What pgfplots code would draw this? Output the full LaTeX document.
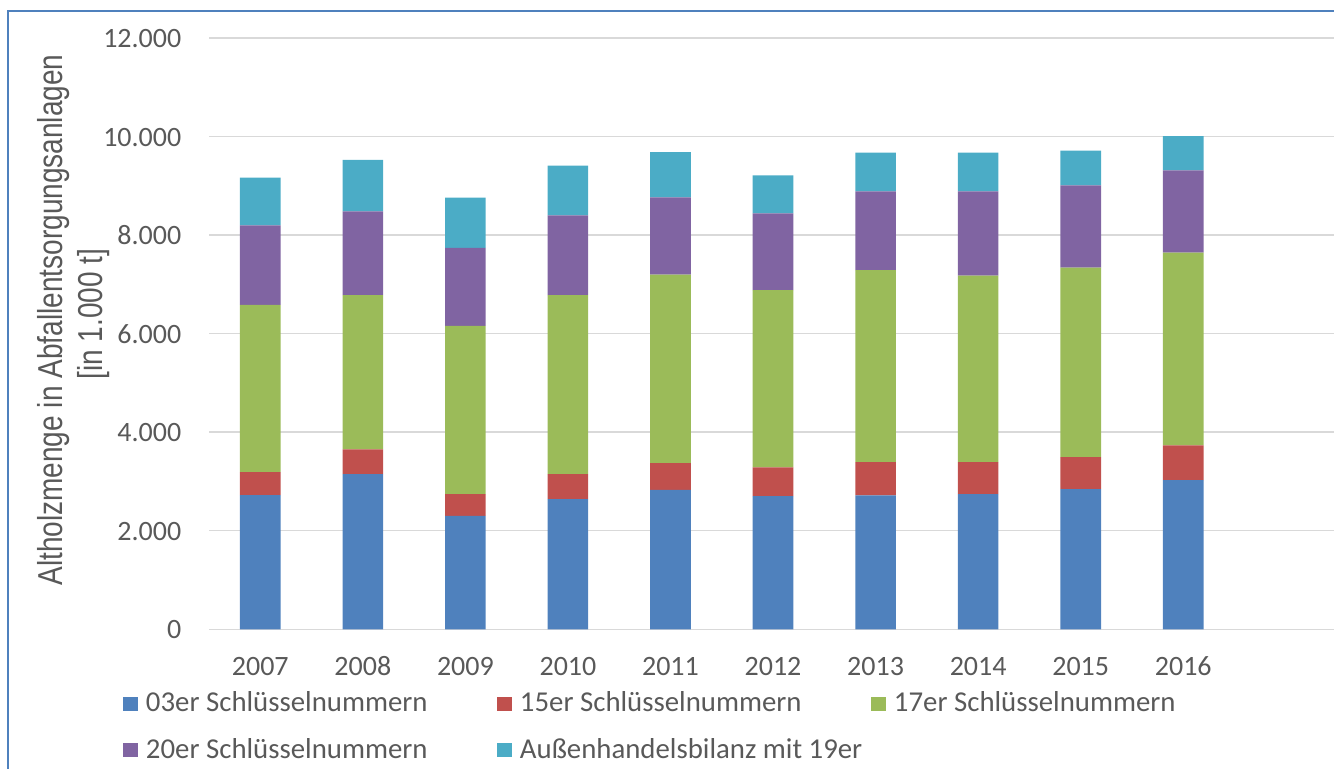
\documentclass[border=0pt]{standalone}
\usepackage{fontspec}
\setmainfont{Carlito}
\newfontfamily\labelfont[FakeStretch=0.81]{Liberation Sans}
\usepackage{pgfplots}
\usepackage{pgfplotstable}
\pgfplotsset{compat=1.18}
\definecolor{cblue}{RGB}{79,129,189}
\definecolor{cred}{RGB}{192,80,77}
\definecolor{cgreen}{RGB}{155,187,89}
\definecolor{cpurple}{RGB}{128,100,162}
\definecolor{ccyan}{RGB}{75,172,198}
\definecolor{gridgray}{RGB}{217,217,217}
\definecolor{textgray}{RGB}{89,89,89}
\definecolor{frameblue}{RGB}{79,129,189}

\pgfplotstableread{
x blue red green purple cyan
0 2724 466 3393 1616 967
1 3150 500 3130 1703 1041
2 2304 440 3413 1582 1022
3 2643 507 3630 1622 1008
4 2831 542 3826 1568 919
5 2703 582 3596 1562 770
6 2717 676 3894 1602 784
7 2744 649 3786 1710 784
8 2845 649 3847 1670 703
9 3028 703 3914 1670 695
}\datatable

\pgfplotsset{
  sqlegend/.style={legend image code/.code={\fill[##1,draw=none] (0pt,-2.75pt) rectangle (7.5pt,4.25pt);}}
}

\begin{document}
\begin{tikzpicture}
\useasboundingbox (0,0) rectangle (667pt,384.5pt);
\draw[color=frameblue, line width=1pt] (4pt,-2pt) -- (4pt,378.85pt) -- (670pt,378.85pt);
\begin{axis}[
  at={(104.5pt,69.85pt)}, anchor=south west,
  scale only axis, width=562.5pt, height=295.65pt,
  ybar stacked, bar width=20.3pt,
  xmin=-0.5, xmax=10.47, ymin=0, ymax=12000,
  xtick={0,...,9},
  xticklabels={2007,2008,2009,2010,2011,2012,2013,2014,2015,2016},
  ytick={0,2000,4000,6000,8000,10000,12000},
  scaled y ticks=false,
  axis line style={draw=none},
  major tick length=0pt,
  tick style={draw=none},
  ymajorgrids,
  grid style={color=gridgray, line width=0.75pt},
  /pgf/number format/1000 sep={.},
  /pgf/number format/assume math mode=true,
  y tick label style={anchor=base east, inner sep=0pt, xshift=-13.65pt, yshift=-4.75pt,
    font=\fontsize{14}{16}\selectfont, text=textgray},
  x tick label style={anchor=base, inner sep=0pt, yshift=-23.35pt,
    font=\fontsize{14}{16}\selectfont, text=textgray},
  legend columns=3,
  legend cell align=left,
  legend style={at={(-0.07644,-0.10553)}, anchor=north west, draw=none, fill=none,
    inner sep=0pt, outer sep=0pt, row sep=9.8pt, column sep=0pt,
    font=\fontsize{14.4}{16}\selectfont, text=textgray,
    nodes={inner sep=0pt, text height=10pt, text depth=3.5pt},
    /tikz/every odd column/.append style={column sep=4pt}},
]
\addplot[fill=cblue, draw=none, sqlegend] table[x=x, y=blue] {\datatable};
\addlegendentry{\makebox[175.5pt][l]{03er Schlüsselnummern}}
\addplot[fill=cred, draw=none, sqlegend] table[x=x, y=red] {\datatable};
\addlegendentry{\makebox[175.5pt][l]{15er Schlüsselnummern}}
\addplot[fill=cgreen, draw=none, sqlegend] table[x=x, y=green] {\datatable};
\addlegendentry{\makebox[175.5pt][l]{17er Schlüsselnummern}}
\addplot[fill=cpurple, draw=none, sqlegend] table[x=x, y=purple] {\datatable};
\addlegendentry{\makebox[175.5pt][l]{20er Schlüsselnummern}}
\addplot[fill=ccyan, draw=none, sqlegend] table[x=x, y=cyan] {\datatable};
\addlegendentry{\makebox[175.5pt][l]{Außenhandelsbilanz mit 19er}}
\end{axis}
\node[rotate=90, anchor=base, inner sep=0pt, text=textgray] at (31.25pt,224.5pt)
  {\labelfont\fontsize{17.3}{20}\selectfont Altholzmenge in Abfallentsorgungsanlagen};
\node[rotate=90, anchor=base, inner sep=0pt, text=textgray] at (51.35pt,227.5pt)
  {\labelfont\fontsize{17.3}{20}\selectfont [in 1.000 t]};
\end{tikzpicture}
\end{document}
